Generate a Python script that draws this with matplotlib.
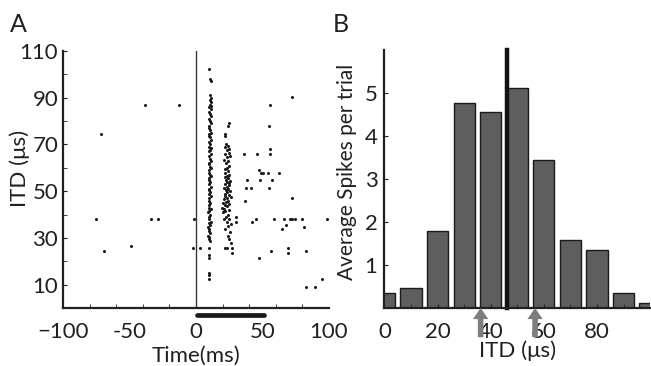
import matplotlib
matplotlib.use("Agg")
import matplotlib.pyplot as plt

plt.rcParams['font.family'] = ['Lato', 'DejaVu Sans']
ink = '#231f20'

# ---- panel A: spike raster (time in ms, ITD in us) ----
# early column of spikes (~10 ms)
early_itd = [12.5, 14, 15, 21.5, 22.5, 25.5, 28.5, 29.5, 30.5, 31, 32, 33, 34, 34.5,
             35.5, 36.5, 37, 38, 39, 40, 41, 41.5, 42.5, 43, 44, 45, 46, 47, 48, 49,
             49.5, 50.5, 51, 52, 53, 54, 55, 55.5, 56.5, 57, 58, 59, 60, 60.5, 61.5,
             62, 63, 64, 65, 66, 67, 67.5, 68.5, 69, 70, 71, 72, 73, 73.5, 74.5, 75,
             76, 77, 78, 79, 80, 81, 82, 83, 84, 85, 86, 86.5, 87, 88, 89, 90, 91,
             97, 98, 102.5]
early_t = [10, 9.5, 10, 9.5, 10, 9.5, 10.5, 9.5, 10, 9, 10.5, 9.5, 10, 9, 10.5,
           9.5, 11, 10, 9.5, 10.5, 9, 10, 11, 9.5, 10, 10.5, 9.5, 10, 11, 9.5, 10.5,
           10, 9.5, 11, 10, 10.5, 9.5, 10, 11, 10.5, 9.5, 10, 11, 10.5, 10, 9.5, 11,
           10.5, 10, 11.5, 10, 10.5, 11, 9.5, 10.5, 10, 11, 10.5, 9.5, 10, 11, 10.5,
           10, 9.5, 11, 10.5, 10, 11, 10.5, 10, 11.5, 10, 11, 10.5, 11, 10.5, 11,
           10.5, 11, 10.5, 10]

# second column of spikes (~23 ms)
late_itd = [23.4, 25.7, 25.7, 25.7, 28, 29.5, 31, 32.5, 34, 35, 36, 37, 38, 38, 39,
            40, 41, 41.5, 42, 42.5, 43, 43.5, 44, 44.5, 45, 45.5, 46, 46.5, 47, 47.5,
            48, 48.5, 49, 49.5, 50, 50.5, 51, 51.5, 52, 52.5, 53, 53.5, 54, 54.5, 55,
            55.5, 56, 56.5, 57, 58, 58.5, 59.5, 60, 61, 62, 63, 63.5, 64.5, 65, 66,
            66.5, 67.5, 68, 69, 69.5, 70, 73.5, 74.5, 78, 79]
late_t = [27, 21.5, 23, 27, 26, 25, 24, 25.5, 22, 24, 26.5, 23, 21, 25, 22.5, 24,
          20.5, 22, 24.5, 21, 19.5, 23, 21.5, 25, 20, 22.5, 24, 21, 23.5, 26, 22,
          24.5, 21.5, 23, 25.5, 22.5, 24, 21, 23.5, 25, 22, 24.5, 23, 25.5, 22.5, 24,
          21.5, 23.5, 25, 22, 24, 21.5, 23.5, 25, 22.5, 24, 21, 23, 25.5, 22, 24.5,
          23, 25, 21.5, 24, 22.5, 22, 21.5, 24, 25]

# isolated spikes
sparse_t = [-75.3, -71.5, -69, -48.8, -38, -34, -28.5, -12.5, -2.3, -1.5, 3,
            30, 30, 35.8, 37, 37.3, 38.5, 41, 42, 45, 45.5, 47, 47.5, 48, 48.5, 50.5,
            54.3, 55, 55, 55.5, 55.5, 56, 56.5, 57.5, 58.5, 62.5, 65, 66, 67.5, 69.5,
            69.5, 70.5, 72, 72, 72.5, 74.5, 80, 81, 82.8, 83, 89.5, 94.8, 98.5]
sparse_itd = [38, 74.7, 24.6, 26.7, 86.9, 38, 38, 86.9, 25.7, 38, 25.7,
              39.1, 37, 65.9, 45.7, 51.3, 54.9, 51.3, 36.7, 38, 65.9, 21.4, 59.1, 54.6,
              58, 58, 58, 51.3, 78, 68, 65.9, 86.9, 24.6, 54.6, 38, 58, 33.7, 38, 35.7,
              25.7, 23.4, 38, 90.3, 46.9, 38, 38, 38, 34.6, 9.1, 24.6, 9.1, 12.3, 38]

stim_on, stim_off = 0, 50

# ---- panel B: spike count per ITD ----
itd_bins = [0, 10, 20, 30, 40, 50, 60, 70, 80, 90, 100]
avg_spikes = [0.35, 0.46, 1.79, 4.77, 4.55, 5.11, 3.44, 1.57, 1.35, 0.34, 0.11]
best_itd = 46.3
arrow_itds = [36.2, 56.7]

fig = plt.figure(figsize=(6.51, 3.66), dpi=100)
axA = fig.add_axes([0.0968, 0.1585, 0.4086, 0.702])
axB = fig.add_axes([0.5906, 0.1585, 0.408, 0.705])

# raster
axA.axvline(0, ymin=0, ymax=1, color='#3a3a3a', lw=1)
for t, y in [(early_t, early_itd), (late_t, late_itd), (sparse_t, sparse_itd)]:
    axA.plot(t, y, 'o', ms=2.2, mfc='#1a1a1a', mec='none', clip_on=False)
axA.plot([stim_on + 1, stim_off + 1], [-3, -3], color='#1a1a1a', lw=3.4,
         solid_capstyle='round', clip_on=False)
axA.set_xlim(-100, 100)
axA.set_ylim(0, 110)
axA.set_xticks([-100, -50, 0, 50, 100])
axA.set_xticklabels(['\u2212100', '-50', '0', '50', '100'])
axA.set_xticks(range(-80, 100, 20), minor=True)
axA.set_yticks(range(10, 111, 20))
axA.set_yticks(range(0, 111, 10), minor=True)
axA.tick_params(axis='x', which='major', length=0, pad=10)
axA.tick_params(axis='y', which='major', direction='in', length=3, pad=3.5)
axA.tick_params(which='minor', direction='in', length=3, color=ink)
axA.tick_params(labelsize=16, colors=ink)
axA.set_xlabel('Time(ms)', fontsize=16, color=ink, labelpad=3)
axA.set_ylabel('ITD (\u03bcs)', fontsize=16, color=ink)
axA.yaxis.set_label_coords(-0.124, 0.545)

# histogram
axB.bar(itd_bins, avg_spikes, width=8, color='#5e5e5f', edgecolor='#1a1a1a', lw=1)
axB.plot([best_itd, best_itd], [0, 6], color='#111111', lw=3.2, clip_on=False)
for a in arrow_itds:
    axB.annotate('', xy=(a, 0.0), xytext=(a, -0.68), annotation_clip=False,
                 arrowprops=dict(facecolor='#7d7d7d', edgecolor='none',
                                 width=4, headwidth=11, headlength=8))
axB.set_xlim(0, 100)
axB.set_ylim(0, 6)
axB.set_xticks([0, 20, 40, 60, 80])
axB.set_xticks(range(10, 100, 20), minor=True)
axB.set_yticks([1, 2, 3, 4, 5])
axB.tick_params(axis='x', which='major', direction='in', length=3, pad=10)
axB.tick_params(axis='y', direction='in', length=3, pad=5)
axB.tick_params(which='minor', direction='in', length=3, color=ink)
axB.tick_params(labelsize=16, colors=ink)
axB.set_xlabel('ITD (\u03bcs)', fontsize=16, color=ink, labelpad=-1)
axB.set_ylabel('Average Spikes per trial', fontsize=15, color=ink)
axB.yaxis.set_label_coords(-0.104, 0.529)

for ax in (axA, axB):
    for s in ('top', 'right'):
        ax.spines[s].set_visible(False)
    for s in ('left', 'bottom'):
        ax.spines[s].set_linewidth(1.6)
        ax.spines[s].set_color(ink)

fig.text(0.015, 0.913, 'A', fontsize=18, color=ink)
fig.text(0.511, 0.913, 'B', fontsize=18, color=ink)

fig.savefig('out.png', dpi=100)
